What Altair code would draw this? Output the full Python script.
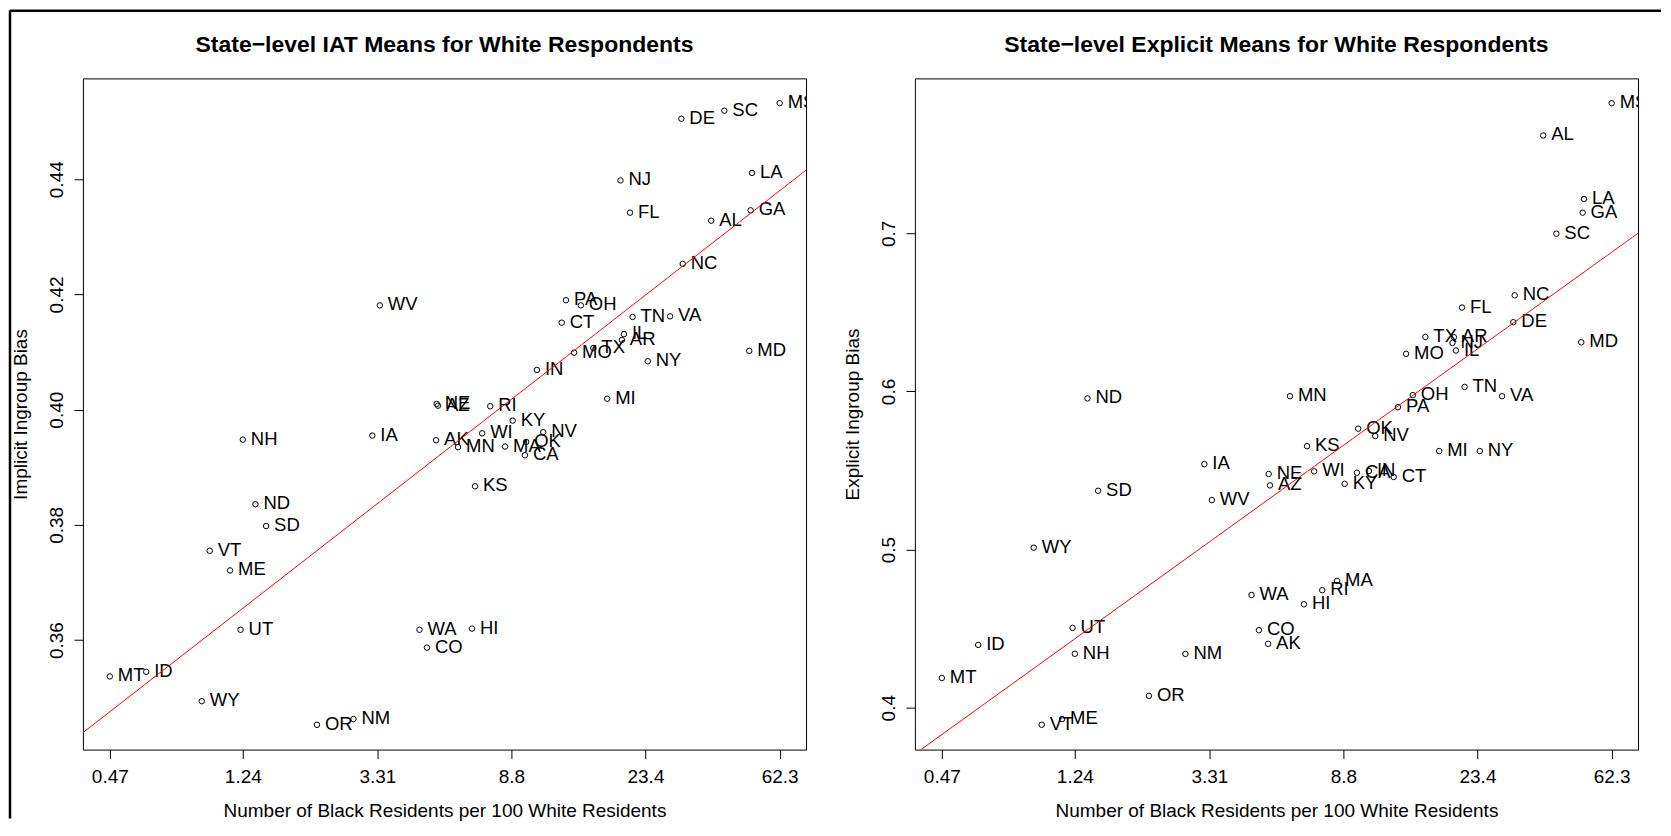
import altair as alt
import pandas as pd

# ---- data ----
states = ["MS", "SC", "DE", "NJ", "LA", "FL", "GA", "AL", "NC", "WV",
          "PA", "OH", "CT", "TN", "VA", "IL", "AR", "TX", "MO", "MD",
          "NY", "IN", "MI", "AZ", "NE", "RI", "KY", "NV", "WI", "IA",
          "NH", "AK", "MN", "MA", "OK", "CA", "KS", "ND", "SD", "VT",
          "ME", "UT", "WA", "HI", "CO", "MT", "ID", "WY", "OR", "NM"]
ratio = [62.3, 41.6, 30.4, 19.5, 50.9, 20.9, 50.4, 37.8, 30.7, 3.37,
         13.1, 14.6, 12.7, 21.3, 28.0, 20.0, 19.7, 16.0, 13.9, 49.9,
         23.8, 10.6, 17.7, 5.15, 5.10, 7.54, 8.88, 11.1, 7.11, 3.19,
         1.24, 5.08, 5.96, 8.40, 9.80, 9.71, 6.75, 1.36, 1.47, 0.974,
         1.13, 1.22, 4.50, 6.60, 4.75, 0.47, 0.613, 0.919, 2.13, 2.78]
iat = [0.4532, 0.4519, 0.4505, 0.4398, 0.4411, 0.4342, 0.4346, 0.4328, 0.4253, 0.4181,
       0.4190, 0.4181, 0.4151, 0.4161, 0.4162, 0.4131, 0.4121, 0.4107, 0.4099, 0.4102,
       0.4084, 0.4069, 0.4019, 0.4007, 0.4010, 0.4006, 0.3981, 0.3961, 0.3959, 0.3955,
       0.3948, 0.3947, 0.3935, 0.3936, 0.3944, 0.3921, 0.3867, 0.3836, 0.3798, 0.3755,
       0.3721, 0.3618, 0.3618, 0.3620, 0.3587, 0.3537, 0.3545, 0.3494, 0.3453, 0.3463]
explicit = [0.7823, 0.6998, 0.6438, 0.6307, 0.7217, 0.6531, 0.7131, 0.7619, 0.6608, 0.5313,
            0.5901, 0.5977, 0.5459, 0.6029, 0.5970, 0.6259, 0.6343, 0.6345, 0.6238, 0.6311,
            0.5623, 0.5497, 0.5623, 0.5406, 0.5478, 0.4743, 0.5416, 0.5718, 0.5495, 0.5541,
            0.4341, 0.4404, 0.5970, 0.4802, 0.5765, 0.5486, 0.5654, 0.5956, 0.5372, 0.3892,
            0.3928, 0.4505, 0.4713, 0.4654, 0.4490, 0.4188, 0.4397, 0.5012, 0.4075, 0.4340]

x_ticks = [0.47, 1.24, 3.31, 8.8, 23.4, 62.3]
iat_ticks = [0.36, 0.38, 0.40, 0.42, 0.44]
expl_ticks = [0.4, 0.5, 0.6, 0.7]
x_domain = [0.3862, 75.5]
iat_domain = [0.3410, 0.4575]
expl_domain = [0.3735, 0.7980]

x_title = "Number of Black Residents per 100 White Residents"

df = pd.DataFrame({"state": states, "ratio": ratio, "iat": iat, "expl": explicit})

FONT = "Liberation Sans"
W, H = 724, 672


def panel(field, ticks, fmt, domain, ytitle, title, frame=False):
    x = alt.X("ratio:Q",
              scale=alt.Scale(type="log", domain=x_domain, nice=False, zero=False),
              axis=alt.Axis(values=x_ticks, format=".3~r", title=x_title,
                            titleX=W / 2, titleY=67, titleBaseline="alphabetic",
                            titleAlign="center", labelPadding=9, labelFlush=False))
    y = alt.Y(f"{field}:Q",
              scale=alt.Scale(domain=domain, nice=False, zero=False),
              axis=alt.Axis(values=ticks, format=fmt, title=ytitle,
                            labelAngle=270, labelAlign="center",
                            labelBaseline="alphabetic", labelPadding=11,
                            titleAngle=270, titleX=-56.5, titleY=H / 2,
                            titleBaseline="alphabetic", titleAlign="center"))
    base = alt.Chart(df).encode(x=x, y=y)
    pts = base.mark_point(shape="circle", filled=False, size=30, strokeWidth=1,
                          color="black", opacity=1)
    txt = base.mark_text(align="left", baseline="middle", dx=8, dy=-1,
                         fontSize=18.5, font=FONT, color="black",
                         clip=True).encode(text="state:N")
    line = base.transform_regression("ratio", field, method="log",
                                     extent=x_domain).mark_line(
        color="red", strokeWidth=1, clip=True)
    layers = [pts, txt, line]
    dy = 0
    if frame:
        fdf = pd.DataFrame({"k": [0]})
        vline = alt.Chart(fdf).mark_rule(color="black", strokeWidth=2.5).encode(
            x=alt.value(-73), y=alt.value(-68), y2=alt.value(741))
        hline = alt.Chart(fdf).mark_rule(color="black", strokeWidth=2.5).encode(
            x=alt.value(-73), x2=alt.value(1580), y=alt.value(-67.75))
        layers += [vline, hline]
        dy = 69
    return alt.layer(*layers).properties(
        width=W, height=H,
        title=alt.TitleParams(text=title, font=FONT, fontSize=23, fontWeight="bold",
                              color="black", anchor="middle", frame="group",
                              baseline="alphabetic", offset=3.5, dy=dy))


left = panel("iat", iat_ticks, ".2f", iat_domain, "Implicit Ingroup Bias",
             "State\u2212level IAT Means for White Respondents", frame=True)
right = panel("expl", expl_ticks, ".1f", expl_domain, "Explicit Ingroup Bias",
              "State\u2212level Explicit Means for White Respondents")

chart = alt.hconcat(left, right, spacing=109, bounds="flush").properties(
    padding=0
).configure_view(stroke="black", strokeWidth=1).configure_axis(
    domain=False, grid=False, ticks=True, tickColor="black", tickSize=9,
    tickWidth=1, labelFont=FONT, labelFontSize=19, labelColor="black",
    titleFont=FONT, titleFontSize=19, titleFontWeight="normal", titleColor="black")

chart.save("out.html", embed_options={"renderer": "svg", "actions": False})
